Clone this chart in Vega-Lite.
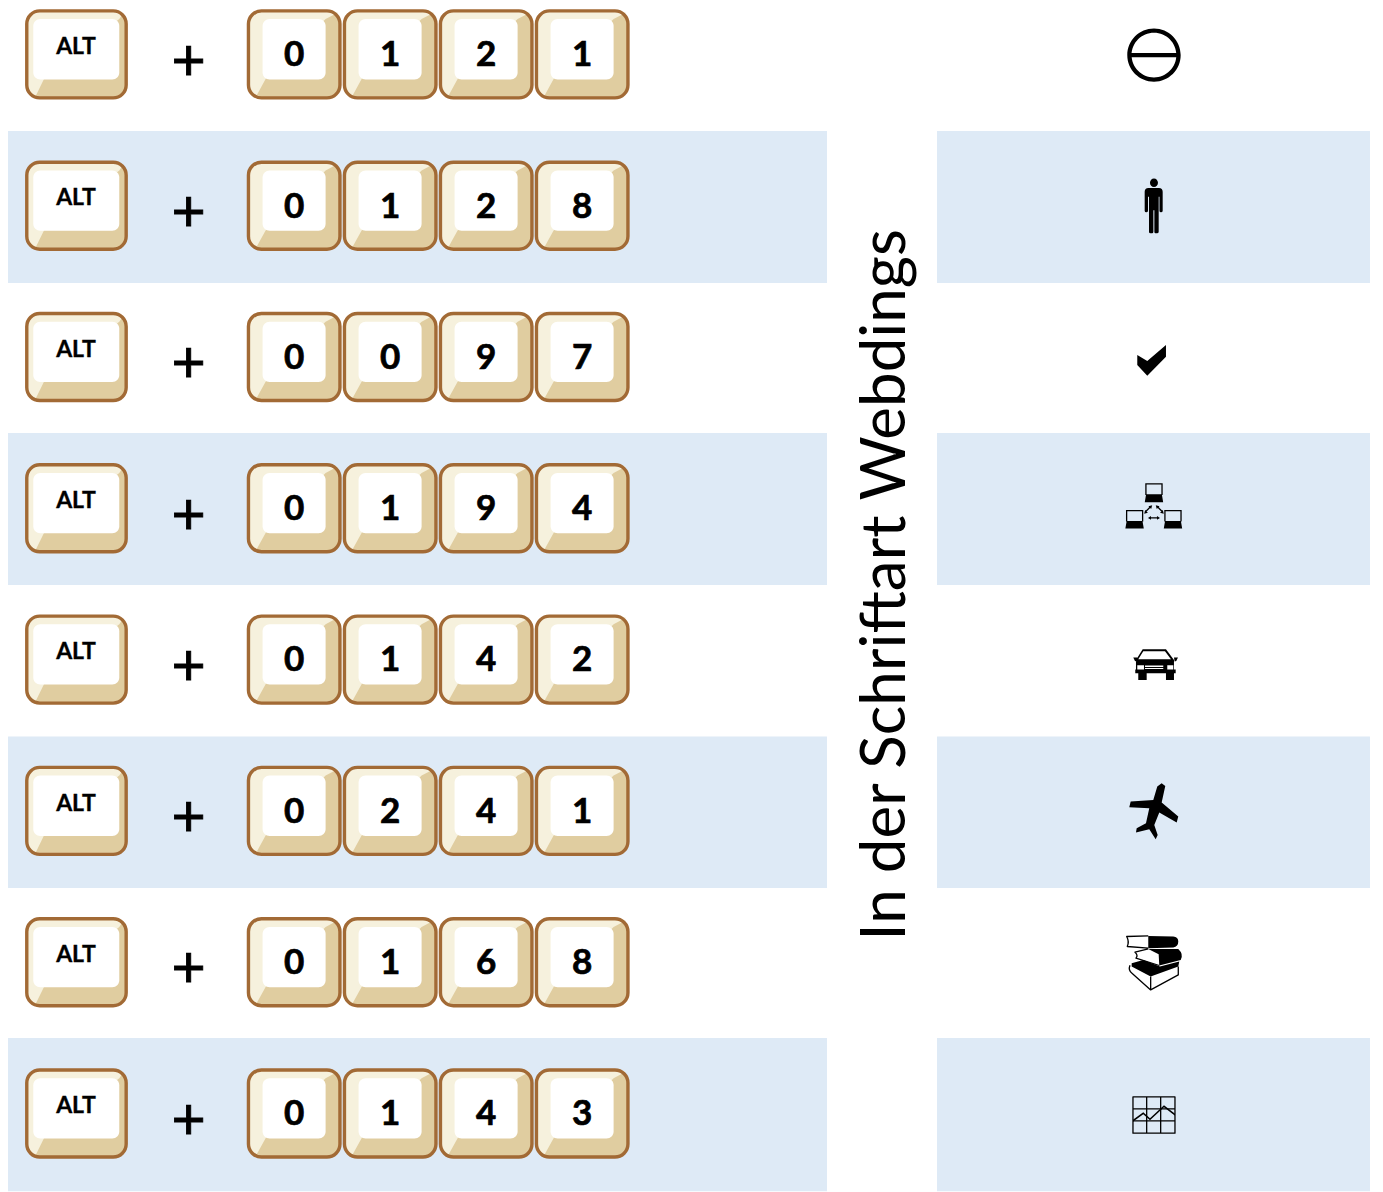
{
"$schema":"https://vega.github.io/schema/vega-lite/v6.json",
"width":1383,"height":1192,"padding":0,"autosize":{"type":"none"},"background":"white",
"config":{"view":{"stroke":null},"axis":{"disable":true}},
"datasets":{
"bands":[
{"from":0.506,"to":1.5106,"left":-1.981,"right":6.55},{"from":2.5027,"to":3.5066,"left":-1.981,"right":6.55},{"from":4.5086,"to":5.5096,"left":-1.981,"right":6.55},{"from":6.5007,"to":7.5139,"left":-1.981,"right":6.55},
{"from":0.506,"to":1.5106,"left":7.696,"right":12.206},{"from":2.5027,"to":3.5066,"left":7.696,"right":12.206},{"from":4.5086,"to":5.5096,"left":7.696,"right":12.206},{"from":6.5007,"to":7.5139,"left":7.696,"right":12.206}],
"keys":[
{"row":0,"slot":-1.268,"key":"ALT"},{"row":0,"slot":1,"key":"0"},{"row":0,"slot":2,"key":"1"},{"row":0,"slot":3,"key":"2"},{"row":0,"slot":4,"key":"1"},
{"row":1,"slot":-1.268,"key":"ALT"},{"row":1,"slot":1,"key":"0"},{"row":1,"slot":2,"key":"1"},{"row":1,"slot":3,"key":"2"},{"row":1,"slot":4,"key":"8"},
{"row":2,"slot":-1.268,"key":"ALT"},{"row":2,"slot":1,"key":"0"},{"row":2,"slot":2,"key":"0"},{"row":2,"slot":3,"key":"9"},{"row":2,"slot":4,"key":"7"},
{"row":3,"slot":-1.268,"key":"ALT"},{"row":3,"slot":1,"key":"0"},{"row":3,"slot":2,"key":"1"},{"row":3,"slot":3,"key":"9"},{"row":3,"slot":4,"key":"4"},
{"row":4,"slot":-1.268,"key":"ALT"},{"row":4,"slot":1,"key":"0"},{"row":4,"slot":2,"key":"1"},{"row":4,"slot":3,"key":"4"},{"row":4,"slot":4,"key":"2"},
{"row":5,"slot":-1.268,"key":"ALT"},{"row":5,"slot":1,"key":"0"},{"row":5,"slot":2,"key":"2"},{"row":5,"slot":3,"key":"4"},{"row":5,"slot":4,"key":"1"},
{"row":6,"slot":-1.268,"key":"ALT"},{"row":6,"slot":1,"key":"0"},{"row":6,"slot":2,"key":"1"},{"row":6,"slot":3,"key":"6"},{"row":6,"slot":4,"key":"8"},
{"row":7,"slot":-1.268,"key":"ALT"},{"row":7,"slot":1,"key":"0"},{"row":7,"slot":2,"key":"1"},{"row":7,"slot":3,"key":"4"},{"row":7,"slot":4,"key":"3"}],
"rows":[
{"row":0,"plusSlot":-0.101,"iconSlot":9.956,"icon":"ring"},
{"row":1,"plusSlot":-0.101,"iconSlot":9.956,"icon":"person"},
{"row":2,"plusSlot":-0.101,"iconSlot":9.956,"icon":"check"},
{"row":3,"plusSlot":-0.101,"iconSlot":9.956,"icon":"network"},
{"row":4,"plusSlot":-0.101,"iconSlot":9.956,"icon":"car"},
{"row":5,"plusSlot":-0.101,"iconSlot":9.956,"icon":"plane"},
{"row":6,"plusSlot":-0.101,"iconSlot":9.956,"icon":"books"},
{"row":7,"plusSlot":-0.101,"iconSlot":9.956,"icon":"chart"}],
"title":[{"slot":7.361,"row":3.506,"label":"In der Schriftart Webdings"}]
},
"resolve":{"scale":{"shape":"independent"}},
"layer":[
{"data":{"name":"bands"},"mark":{"type":"rect","fill":"#DEEAF6"},
 "encoding":{
  "x":{"field":"left","type":"quantitative","scale":{"domain":[-2.0646,12.3417],"nice":false,"zero":false},"axis":null},
  "x2":{"field":"right"},
  "y":{"field":"from","type":"quantitative","scale":{"domain":[7.5188,-0.35955],"nice":false,"zero":false},"axis":null},
  "y2":{"field":"to"}}},
{"data":{"name":"keys"},"transform":[{"filter":"datum.key === 'ALT'"}],
 "mark":{"type":"point","filled":true,"opacity":1,"size":4,"fill":"#E0CDA0","strokeWidth":0,"shape":"M-36.7,-43.5 L36.7,-43.5 A13,13 0 0 1 49.7,-30.5 L49.7,30.5 A13,13 0 0 1 36.7,43.5 L-36.7,43.5 A13,13 0 0 1 -49.7,30.5 L-49.7,-30.5 A13,13 0 0 1 -36.7,-43.5 Z"},
 "encoding":{"x":{"field":"slot","type":"quantitative"},"y":{"field":"row","type":"quantitative"}}},
{"data":{"name":"keys"},"transform":[{"filter":"datum.key === 'ALT'"}],
 "mark":{"type":"point","filled":true,"opacity":1,"size":4,"fill":"#F6F1DD","strokeWidth":0,"shape":"M47,-41.5 L36.7,-43.5 L-36.7,-43.5 A13,13 0 0 0 -49.7,-30.5 L-49.7,30.5 A13,13 0 0 0 -40.5,41 L-32.5,24.7 L42.8,-35.3 Z"},
 "encoding":{"x":{"field":"slot","type":"quantitative"},"y":{"field":"row","type":"quantitative"}}},
{"data":{"name":"keys"},"transform":[{"filter":"datum.key === 'ALT'"}],
 "mark":{"type":"point","filled":true,"opacity":1,"size":4,"fill":"#FFFFFF","strokeWidth":0,"shape":"M-36.2,-35.3 L35.8,-35.3 A7,7 0 0 1 42.8,-28.3 L42.8,18 A7,7 0 0 1 35.8,25 L-36.2,25 A7,7 0 0 1 -43.2,18 L-43.2,-28.3 A7,7 0 0 1 -36.2,-35.3 Z"},
 "encoding":{"x":{"field":"slot","type":"quantitative"},"y":{"field":"row","type":"quantitative"}}},
{"data":{"name":"keys"},"transform":[{"filter":"datum.key === 'ALT'"}],
 "mark":{"type":"point","filled":false,"opacity":1,"size":4,"stroke":"#A26A35","fill":"transparent","strokeWidth":3.4,"shape":"M-36.7,-43.5 L36.7,-43.5 A13,13 0 0 1 49.7,-30.5 L49.7,30.5 A13,13 0 0 1 36.7,43.5 L-36.7,43.5 A13,13 0 0 1 -49.7,30.5 L-49.7,-30.5 A13,13 0 0 1 -36.7,-43.5 Z"},
 "encoding":{"x":{"field":"slot","type":"quantitative"},"y":{"field":"row","type":"quantitative"}}},
{"data":{"name":"keys"},"transform":[{"filter":"datum.key !== 'ALT'"}],
 "mark":{"type":"point","filled":true,"opacity":1,"size":4,"fill":"#E0CDA0","strokeWidth":0,"shape":"M-32.75,-43.5 L32.75,-43.5 A13,13 0 0 1 45.75,-30.5 L45.75,30.5 A13,13 0 0 1 32.75,43.5 L-32.75,43.5 A13,13 0 0 1 -45.75,30.5 L-45.75,-30.5 A13,13 0 0 1 -32.75,-43.5 Z"},
 "encoding":{"x":{"field":"slot","type":"quantitative"},"y":{"field":"row","type":"quantitative"}}},
{"data":{"name":"keys"},"transform":[{"filter":"datum.key !== 'ALT'"}],
 "mark":{"type":"point","filled":true,"opacity":1,"size":4,"fill":"#F6F1DD","strokeWidth":0,"shape":"M44,-42 L32.75,-43.5 L-32.75,-43.5 A13,13 0 0 0 -45.75,-30.5 L-45.75,30.5 A13,13 0 0 0 -37.6,41 L-28.6,24.7 L31.4,-35.3 Z"},
 "encoding":{"x":{"field":"slot","type":"quantitative"},"y":{"field":"row","type":"quantitative"}}},
{"data":{"name":"keys"},"transform":[{"filter":"datum.key !== 'ALT'"}],
 "mark":{"type":"point","filled":true,"opacity":1,"size":4,"fill":"#FFFFFF","strokeWidth":0,"shape":"M-24.6,-35.3 L24.4,-35.3 A7,7 0 0 1 31.4,-28.3 L31.4,18 A7,7 0 0 1 24.4,25 L-24.6,25 A7,7 0 0 1 -31.6,18 L-31.6,-28.3 A7,7 0 0 1 -24.6,-35.3 Z"},
 "encoding":{"x":{"field":"slot","type":"quantitative"},"y":{"field":"row","type":"quantitative"}}},
{"data":{"name":"keys"},"transform":[{"filter":"datum.key !== 'ALT'"}],
 "mark":{"type":"point","filled":false,"opacity":1,"size":4,"stroke":"#A26A35","fill":"transparent","strokeWidth":3.4,"shape":"M-32.75,-43.5 L32.75,-43.5 A13,13 0 0 1 45.75,-30.5 L45.75,30.5 A13,13 0 0 1 32.75,43.5 L-32.75,43.5 A13,13 0 0 1 -45.75,30.5 L-45.75,-30.5 A13,13 0 0 1 -32.75,-43.5 Z"},
 "encoding":{"x":{"field":"slot","type":"quantitative"},"y":{"field":"row","type":"quantitative"}}},
{"data":{"name":"keys"},"transform":[{"filter":"datum.key === 'ALT'"}],
 "mark":{"type":"text","font":"Lato","fontWeight":"bold","fontSize":23,"color":"#000","fill":"#000","stroke":"#000","strokeWidth":0.35,"align":"center","baseline":"middle","dy":-7.4,"dx":-0.5},
 "encoding":{"x":{"field":"slot","type":"quantitative"},"y":{"field":"row","type":"quantitative"},"text":{"field":"key"}}},
{"data":{"name":"keys"},"transform":[{"filter":"datum.key !== 'ALT'"}],
 "mark":{"type":"text","font":"Lato","fontWeight":"bold","fontSize":35,"color":"#000","fill":"#000","stroke":"#000","strokeWidth":0.7,"align":"center","baseline":"middle","dy":0.8},
 "encoding":{"x":{"field":"slot","type":"quantitative"},"y":{"field":"row","type":"quantitative"},"text":{"field":"key"}}},
{"data":{"name":"rows"},
 "mark":{"type":"text","font":"Lato","fontSize":59,"color":"#000","fill":"#000","stroke":"#000","strokeWidth":0.9,"align":"center","baseline":"middle","dy":7.2},
 "encoding":{"x":{"field":"plusSlot","type":"quantitative"},"y":{"field":"row","type":"quantitative"},"text":{"value":"+"}}},
{"data":{"name":"title"},
 "mark":{"type":"text","font":"Lato","fontSize":62,"color":"#000","align":"center","baseline":"alphabetic","angle":270},
 "encoding":{"x":{"field":"slot","type":"quantitative"},"y":{"field":"row","type":"quantitative"},"text":{"field":"label"}}},
{"data":{"name":"rows"},
 "mark":{"type":"point","filled":true,"opacity":1,"size":4,"fill":"#000","strokeWidth":0},
 "encoding":{"x":{"field":"iconSlot","type":"quantitative"},"y":{"field":"row","type":"quantitative"},
  "shape":{"field":"icon","type":"nominal","legend":null,"scale":{
   "domain":["ring","person","check","network","car","plane","books","chart"],
   "range":[
"M-26.7,.7 A26.7,26.7 0 1 1 26.7,.7 A26.7,26.7 0 1 1 -26.7,.7 Z M-22.4,.7 A22.4,22.4 0 1 0 22.4,.7 A22.4,22.4 0 1 0 -22.4,.7 Z M-23,-1.4 L23,-1.4 L23,2.8 L-23,2.8 Z",
"M-9.3,-14 Q-9.3,-17.8 -5.5,-17.8 L5,-17.8 Q8.7,-17.8 8.7,-14 L8.7,5 Q8.7,6.5 7,6.5 Q5.5,6.5 5.5,5 L5.5,-9 L4.7,-9 L4.7,26 Q4.7,27.5 3,27.5 L1.5,27.5 Q.4,27.5 .4,26 L.4,4.5 L-.6,4.5 L-.6,26 Q-.6,27.5 -2,27.5 L-3.5,27.5 Q-5,27.5 -5,26 L-5,-9 L-6,-9 L-6,5 Q-6,6.5 -7.7,6.5 Q-9.3,6.5 -9.3,5 Z M-4,-23 A4,4.3 0 1 1 4,-23 A4,4.3 0 1 1 -4,-23 Z",
"M-16.7,-2 L-6.7,4 L12,-12 L12,-.3 L-6.7,18.7 L-16.7,8 Z",
"M-8.7,-25 L8.7,-25 L8.7,-13.4 L-8.7,-13.4 Z M-7.4,-23.7 L-7.4,-14 L7.4,-14 L7.4,-23.7 Z M-8,-13.4 L8,-13.4 L9.2,-6 L-9.2,-6 Z M-28,1.6 L-10.7,1.6 L-10.7,13.2 L-28,13.2 Z M-26.7,2.9 L-26.7,12.6 L-12,12.6 L-12,2.9 Z M-27.4,13.2 L-11.4,13.2 L-10.2,20.3 L-28.6,20.3 Z M10.3,1.6 L27.7,1.6 L27.7,13.2 L10.3,13.2 Z M11.6,2.9 L11.6,12.6 L26.4,12.6 L26.4,2.9 Z M11,13.2 L27,13.2 L28.2,20.3 L9.8,20.3 Z M-1.8,-3 L-5.5,-2 L-2.8,.7 Z M-9.8,5.5 L-8.8,1.8 L-6.1,4.5 Z M1.8,-3 L2.8,.7 L5.5,-2 Z M9.8,5.5 L6.1,4.5 L8.8,1.8 Z M-6,9.6 L-3,7.8 L-3,11.4 Z M6,9.6 L3,11.4 L3,7.8 Z",
"M-11.3,-10.3 L12,-10.3 L20,.3 L20,10 L21.7,10 L21.7,13.7 L20,13.7 L20,20.3 L12,20.3 L12,13.7 L-7.3,13.7 L-7.3,20.3 L-15.7,20.3 L-15.7,13.7 L-18.7,13.7 L-18.7,10 L-18,10 L-18,.3 Z M-10.7,-8.3 L-15.7,-.3 L17,-.3 L11,-8.3 Z M-16.7,5.7 L-16.7,10 L-10,10 L-10,5.7 Z M13.3,5.7 L13.3,10 L19.3,10 L19.3,5.7 Z M-9,6 L-9,7.3 L9.3,7.3 L9.3,6 Z M-9,8.3 L-9,9.3 L9.3,9.3 L9.3,8.3 Z M-20.7,-2 L-16.7,-2 L-17.3,2 L-19,1.3 Z M20,-2 L24,-2 L22.3,1.3 L20.7,2 Z",
"M7.7,-27.7 L11.3,-25 L7.7,-8.3 L24.3,5.7 L22.7,11.7 L5.3,1.7 L.3,14 L3.7,24 L1.7,28.3 L-4.7,18.3 L-18,21.7 L-17.3,17.3 L-8,12.3 L-4.7,-2.7 L-24.7,-3.7 L-23.3,-9.3 L-.7,-11 L3.3,-24.3 Z",
"M-5.7,-26.3 L19.3,-25.7 Q24.3,-25 24.3,-20.7 Q24.3,-15.5 19.3,-14.7 L-5.7,-14 Z M-5.7,-13.3 L24.3,-13.3 Q30,-8 26.7,-2.3 L5.3,3.3 L4.7,-8 Z M-22.3,1 L-10.7,-2.3 L6,4.3 L25.3,-.7 L24.3,4.3 L-3.3,14.3 L-22.3,4.3 Z",
"M-21,6.3 L-10.7,-1.3 L-4,4.7 L10,-8.3 L21,.3 L21,2.3 L10,-6.3 L-4,6.7 L-10.7,.7 L-21,8.3 Z"
   ]}}}},
{"data":{"name":"rows"},"transform":[{"filter":"datum.icon === 'books' || datum.icon === 'chart' || datum.icon === 'network'"}],
 "mark":{"type":"point","filled":false,"opacity":1,"size":4,"stroke":"#000","fill":"transparent","strokeWidth":1.3,"strokeJoin":"round"},
 "encoding":{"x":{"field":"iconSlot","type":"quantitative"},"y":{"field":"row","type":"quantitative"},
  "shape":{"field":"icon","type":"nominal","legend":null,"scale":{
   "domain":["books","chart","network"],
   "range":[
"M-5.7,-26.3 L-27.3,-25.7 Q-24.5,-20.7 -26.7,-15.7 L-5.7,-14 M-5.7,-13.3 L-19,-10 Q-15.5,-7 -18,-4 L5.3,3.3 M-24,3 Q-26,8 -22,11 L-3.3,27.7 L24.3,12.7 L24.3,4.3 M-3.3,14.3 L-3.3,27.7",
"M-21,-16.7 L21,-16.7 L21,19.7 L-21,19.7 Z M-7.3,-16.7 L-7.3,19.7 M6.7,-16.7 L6.7,19.7 M-21,-4.7 L21,-4.7 M-21,7.3 L21,7.3",
"M-8,3 L-3.5,-1.5 M8,3 L3.5,-1.5 M-4,9.6 L4,9.6"
   ]}}}}
]
}
